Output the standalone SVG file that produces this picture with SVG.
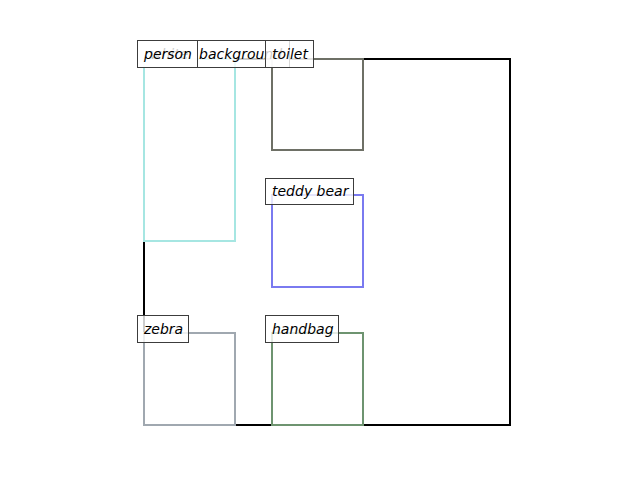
<svg xmlns="http://www.w3.org/2000/svg" width="640" height="480" viewBox="0 0 640 480">
<style>
.b{fill:none;stroke-width:2}
.lb{fill:#fff;fill-opacity:0.8;stroke:#3c3c3c;stroke-width:1}
.t{font-family:"DejaVu Sans",sans-serif;font-style:italic;font-size:14px;fill:#000}
</style>
<rect x="0" y="0" width="640" height="480" fill="#fff"/>
<g id="connectors"></g>
<g id="background-box"><rect class="b" x="144" y="59" width="366" height="366" stroke="#000"/></g>
<g id="person-box"><rect class="b" x="144" y="59" width="91" height="182" stroke="#a6e6e2"/></g>
<g id="toilet-box"><rect class="b" x="272" y="59" width="91" height="91" stroke="#6e7066"/></g>
<g id="teddy-box"><rect class="b" x="272" y="195" width="91" height="92" stroke="#7a7af0"/></g>
<g id="zebra-box"><rect class="b" x="144" y="333" width="91" height="92" stroke="#a0a8b0"/></g>
<g id="handbag-box"><rect class="b" x="272" y="333" width="91" height="92" stroke="#6e9470"/></g>
<g id="background-label"><rect class="lb" x="137.5" y="40.5" width="152" height="27"/><text class="t" x="150" y="58.5">white <tspan x="199">background</tspan></text></g>
<g id="person-label"><rect class="lb" x="137.5" y="40.5" width="60" height="27"/><text class="t" x="144" y="58.5">person</text></g>
<g id="toilet-label"><rect class="lb" x="265.5" y="40.5" width="48" height="27"/><text class="t" x="272" y="58.5">toilet</text></g>
<g id="teddy-label"><rect class="lb" x="265.5" y="178.5" width="88" height="26"/><text class="t" x="272" y="196">teddy bear</text></g>
<g id="zebra-label"><rect class="lb" x="137.5" y="315.5" width="51" height="27"/><text class="t" x="144" y="333.5">zebra</text></g>
<g id="handbag-label"><rect class="lb" x="265.5" y="315.5" width="73" height="27"/><text class="t" x="272" y="333.5">handbag</text></g>
</svg>
